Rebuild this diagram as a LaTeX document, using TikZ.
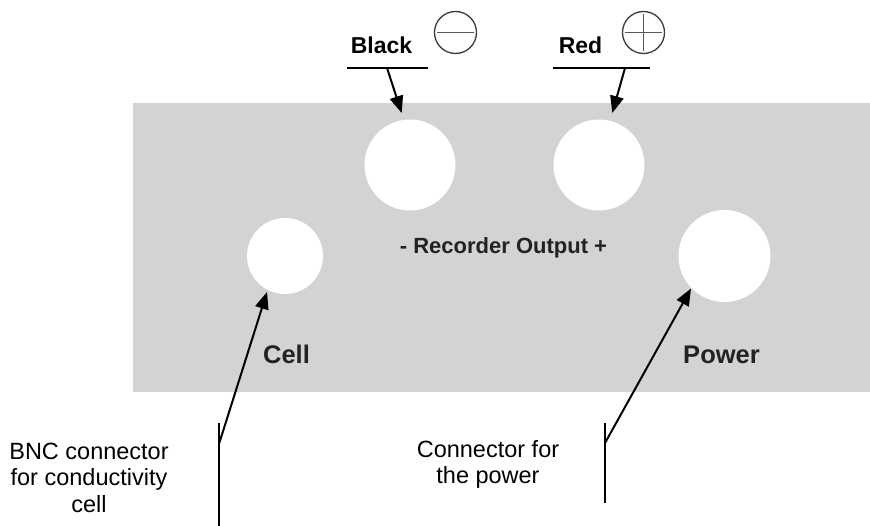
\documentclass[tikz,border=0pt]{standalone}
\usepackage{fontspec}
\setmainfont{Liberation Sans}
\usetikzlibrary{arrows.meta}
\definecolor{panel}{HTML}{D3D3D3}
\definecolor{paneltext}{HTML}{222222}
\definecolor{symline}{HTML}{3A3A3A}
\begin{document}
\begin{tikzpicture}[x=1pt,y=-1pt,
  hole/.style={circle, fill=white, draw=none, inner sep=0pt},
  toplbl/.style={font=\fontsize{23}{27}\selectfont\bfseries, inner sep=0pt, anchor=base},
  paneltxt/.style={font=\fontsize{#1}{#1}\selectfont\bfseries, text=paneltext, inner sep=0pt, anchor=base},
  note/.style={font=\fontsize{23.5}{26.5}\selectfont, align=center, inner sep=0pt, anchor=base},
  symb/.style={circle, draw=symline, line width=1.3pt, inner sep=0pt, minimum size=42pt},
  symbar/.style={draw=symline!85, line width=1.5pt},
  uline/.style={line width=1.3pt},
  leader/.style={line width=2pt},
  arr/.style={line width=2pt, -{Triangle[length=17pt,width=13.5pt]}}
]
\useasboundingbox (0,0) rectangle (870,526);
% panel
\fill[panel] (133,103) rectangle (870,392);
% holes
\node[hole, minimum size=91pt] (blk) at (410,165) {};
\node[hole, minimum size=91pt] (red) at (599,165) {};
\node[hole, minimum size=76pt] (cell) at (285,256) {};
\node[hole, minimum size=92pt] (pwr) at (724.5,256) {};
% panel labels
\node[paneltxt=22] (rec) at (503.5,254) {- Recorder Output +};
\node[paneltxt=25.5] (celltxt) at (286.5,364) {Cell};
\node[paneltxt=25.5] (pwrtxt) at (721.5,364) {Power};
% top labels
\node[toplbl] (blacklbl) at (381.5,54) {Black};
\node[toplbl] (redlbl) at (580.5,54) {Red};
\node[symb] (minus) at (455.5,32.5) {};
\draw[symbar] ([xshift=3pt]minus.west) -- ([xshift=-3pt]minus.east);
\node[symb] (plus) at (643.5,32.5) {};
\draw[symbar] ([xshift=3pt]plus.west) -- ([xshift=-3pt]plus.east);
\draw[symbar] ([yshift=-3pt]plus.north) -- ([yshift=3pt]plus.south);
% underlines
\coordinate (bl1) at (347,68);
\coordinate (bl2) at (428,68);
\coordinate (rl1) at (553,68);
\coordinate (rl2) at (650,68);
\draw[uline] (bl1) -- (bl2);
\draw[uline] (rl1) -- (rl2);
% arrows to recorder outputs
\coordinate (blA) at (387,68);
\coordinate (blT) at (401.7,113);
\coordinate (rdA) at (625,68);
\coordinate (rdT) at (612.3,113);
\draw[arr] (blA) -- (blT);
\draw[arr] (rdA) -- (rdT);
% bottom notes (base anchor = last line)
\node[note] (bnc) at (89,512) {BNC connector\\for conductivity\\cell};
\node[note] (cpw) at (488,483.5) {Connector for\\the power};
% leaders
\coordinate (cv1) at (219.3,423);
\coordinate (cv2) at (219.3,526);
\coordinate (cJ) at (219.3,443);
\coordinate (cT) at (267,292);
\draw[leader] (cv1) -- (cv2);
\draw[arr] (cJ) -- (cT);
\coordinate (pv1) at (605,423);
\coordinate (pv2) at (605,503);
\coordinate (pJ) at (605,443);
\coordinate (pT) at (691,288.5);
\draw[leader] (pv1) -- (pv2);
\draw[arr] (pJ) -- (pT);
\end{tikzpicture}
\end{document}
